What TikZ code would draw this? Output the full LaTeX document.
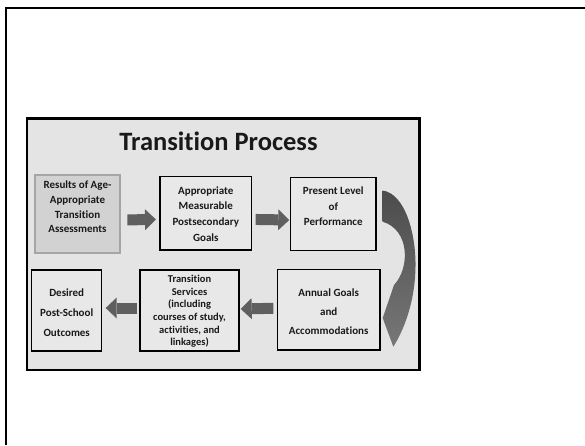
\documentclass[tikz,border=0pt]{standalone}
\usepackage{fontspec}
\setmainfont{Carlito}[Ligatures=NoCommon]
\usetikzlibrary{arrows.meta}
\definecolor{panelgray}{RGB}{228,228,228}
\definecolor{boxgray}{RGB}{232,232,232}
\definecolor{firstgray}{RGB}{210,210,210}
\definecolor{firstline}{RGB}{165,165,165}
\definecolor{arrowgray}{RGB}{95,95,95}
\definecolor{textdark}{RGB}{25,25,25}

\begin{document}
\begin{tikzpicture}[x=1pt,y=-1pt,
  stepbox/.style={draw=black,line width=1.4pt,fill=boxgray,inner sep=0pt},
  steptext/.style={align=center,text=textdark,inner sep=0pt},
  blockarr/.style={arrowgray,line width=11pt,-{Triangle[width=21pt,length=11pt,line width=0pt]}}]
  \useasboundingbox (0,0) rectangle (585,445);
  \draw[line width=2.3pt](6,445)--(6,7.8)--(585,7.8);
  \draw[line width=2.3pt,fill=panelgray](27,118.5) rectangle (419.5,370);
  \node[anchor=base,text=textdark,font=\bfseries\fontsize{26.5}{30}\selectfont] (title) at (218.5,150) {Transition Process};
  % top row
  \node[stepbox,fill=firstgray,draw=firstline,minimum width=85pt,minimum height=78pt] (b1) at (77.5,214) {};
  \node[stepbox,minimum width=91.7pt,minimum height=73.3pt] (b2) at (205.8,213.4) {};
  \node[stepbox,minimum width=85.3pt,minimum height=73.4pt] (b3) at (333.3,214) {};
  \node[steptext,font=\bfseries\fontsize{11}{14.7}\selectfont] (t1) at (77.5,207) {Results of Age-\\Appropriate\\Transition\\Assessments};
  \node[steptext,font=\bfseries\fontsize{11}{15.7}\selectfont] (t2) at (205.8,214) {Appropriate\\Measurable\\Postsecondary\\Goals};
  \node[steptext,font=\bfseries\fontsize{11}{15.6}\selectfont] (t3) at (333.3,206.3) {Present Level\\of\\Performance};
  % bottom row
  \node[stepbox,minimum width=70pt,minimum height=81pt] (b4) at (66.7,310.5) {};
  \node[stepbox,minimum width=99pt,minimum height=81pt] (b5) at (189.5,310.5) {};
  \node[stepbox,minimum width=102.7pt,minimum height=80.7pt] (b6) at (328.7,309.7) {};
  \node[steptext,font=\bfseries\fontsize{11}{20}\selectfont] (t4) at (66.7,312.7) {Desired\\Post-School\\Outcomes};
  \node[steptext,font=\bfseries\fontsize{10.5}{12.6}\selectfont] (t5) at (189.5,311.3) {Transition\\Services\\(including\\courses of study,\\activities, and\\linkages)};
  \node[steptext,font=\bfseries\fontsize{11}{19}\selectfont] (t6) at (328.7,311.5) {Annual Goals\\and\\Accommodations};
  % block arrows
  \draw[blockarr,shorten <=6.7pt,shorten >=3.3pt]([yshift=-6pt]b1.east)--([yshift=-6pt]b2.west);
  \draw[blockarr,shorten <=3.3pt,shorten >=0.7pt]([yshift=-6pt]b2.east)--([yshift=-6pt]b3.west);
  \draw[blockarr,shorten <=3.3pt,shorten >=1pt]([yshift=1.5pt]b6.west)--([yshift=1.5pt]b5.east);
  \draw[blockarr,shorten <=2.7pt,shorten >=3.3pt]([yshift=2.5pt]b5.west)--([yshift=2.5pt]b4.east);
  % curved arrow down the right side
  \shade[top color=arrowgray!80!black,bottom color=arrowgray!85!white]
    (382.7,190.5) .. controls (405,194) and (415,232) .. (415.5,262)
    .. controls (416,300) and (404,330) .. (393.3,346.7)
    -- (382.7,318) -- (394,285)
    .. controls (410,268) and (410,230) .. (382.7,221.7) -- cycle;
\end{tikzpicture}
\end{document}
